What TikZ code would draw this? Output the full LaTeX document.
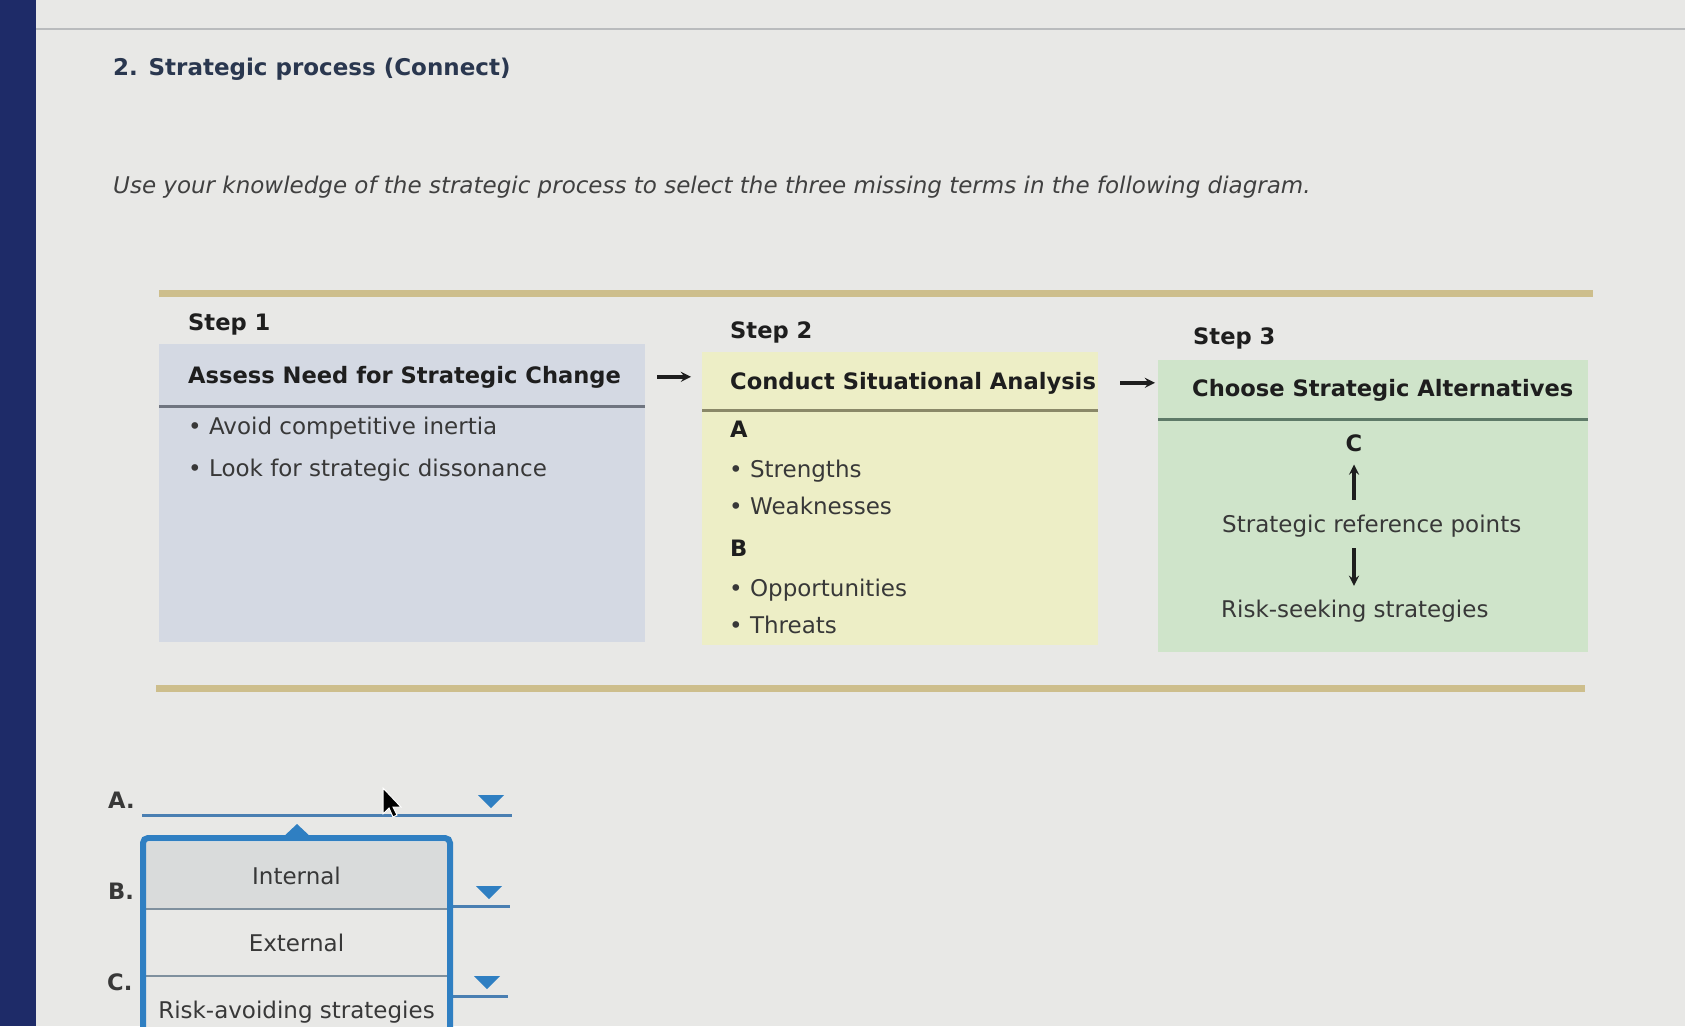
\documentclass[tikz,border=0pt]{standalone}
\usepackage{fontspec}
\setmainfont{DejaVu Sans}
\definecolor{paper}{HTML}{E8E8E6}
\definecolor{navy}{HTML}{1E2B68}
\definecolor{rulegray}{HTML}{B9BBBD}
\definecolor{gold}{HTML}{CDBE8C}
\definecolor{stepone}{HTML}{D4D9E3}
\definecolor{steptwo}{HTML}{EDEEC6}
\definecolor{stepthree}{HTML}{CFE4CA}
\definecolor{divone}{HTML}{6F7580}
\definecolor{divtwo}{HTML}{8A8868}
\definecolor{divthree}{HTML}{5E7A68}
\definecolor{ink}{HTML}{1E1E1E}
\definecolor{soft}{HTML}{383838}
\definecolor{titleblue}{HTML}{2A374F}
\definecolor{ddblue}{HTML}{2F7FC2}
\definecolor{ddline}{HTML}{4A7FB2}
\definecolor{hilite}{HTML}{D9DBDB}
\definecolor{rowline}{HTML}{7F909E}
\begin{document}
\begin{tikzpicture}[x=1pt,y=-1pt,>=stealth,
    every node/.style={inner sep=0pt,text=soft,font=\fontsize{23}{28}\selectfont},
    bold/.style={text=ink,font=\fontsize{22.6}{28}\selectfont\bfseries},
    panel/.style={anchor=north west,minimum width=#1},
    goldrule/.style={gold,line width=7},
    steparrow/.style={->,ink,line width=3.4},
    item/.style={minimum width=301,minimum height=67,text height=20,text depth=2}]
  % screen and page
  \fill[paper] (0,0) rectangle (1685,1026);
  \useasboundingbox (0,0) rectangle (1685,1026);
  \fill[navy] (0,0) rectangle (36,1026);
  \draw[rulegray,line width=1.5] (36,29) -- (1685,29);
  \node[bold,text=titleblue,anchor=base west,font=\fontsize{23}{28}\selectfont\bfseries] (title) at (113,75)
        {2. Strategic process (Connect)};
  \node[anchor=base west,text=ink!85,font=\fontsize{23}{28}\selectfont\itshape] (prompt) at (113,193)
        {Use your knowledge of the strategic process to select the three missing terms in the following diagram.};
  % the three steps, between two gold rules
  \draw[goldrule] (159,293) -- (1593,293);
  \draw[goldrule] (156,688) -- (1585,688);
  \node[panel=486,fill=stepone,minimum height=298] (p1) at (159,344) {};
  \node[panel=396,fill=steptwo,minimum height=293] (p2) at (702,352) {};
  \node[panel=430,fill=stepthree,minimum height=292] (p3) at (1158,360) {};
  \draw[divone,line width=3] (159,406) -- (645,406);
  \draw[divtwo,line width=3] (702,410) -- (1098,410);
  \draw[divthree,line width=3] (1158,419) -- (1588,419);
  % step 1
  \node[bold,anchor=base west] (s1) at (188,330) {Step 1};
  \node[bold,anchor=base west] (h1) at (188,383) {Assess Need for Strategic Change};
  \node[anchor=base west] (b11) at (188,434) {\textbullet\ Avoid competitive inertia};
  \node[anchor=base west] (b12) at (188,476) {\textbullet\ Look for strategic dissonance};
  % step 2
  \node[bold,anchor=base west] (s2) at (730,338) {Step 2};
  \node[bold,anchor=base west] (h2) at (730,389) {Conduct Situational Analysis};
  \node[bold,anchor=base west] (ka) at (730,437) {A};
  \node[anchor=base west] (b21) at (729,477) {\textbullet\ Strengths};
  \node[anchor=base west] (b22) at (729,514) {\textbullet\ Weaknesses};
  \node[bold,anchor=base west] (kb) at (730,556) {B};
  \node[anchor=base west] (b23) at (729,596) {\textbullet\ Opportunities};
  \node[anchor=base west] (b24) at (729,633) {\textbullet\ Threats};
  % step 3
  \node[bold,anchor=base west] (s3) at (1193,344) {Step 3};
  \node[bold,anchor=base west] (h3) at (1192,396) {Choose Strategic Alternatives};
  \node[bold,anchor=base] (kc) at (1354,451) {C};
  \node[anchor=base west] (srp) at (1222,532) {Strategic reference points};
  \node[anchor=base west] (rss) at (1221,617) {Risk-seeking strategies};
  \draw[steparrow,shorten <=14.5,shorten >=13] (srp.north -| kc) -- (kc);
  \draw[steparrow,shorten <=11.5,shorten >=13.5] (srp.south -| kc) -- (rss.north -| kc);
  % arrows between steps
  \draw[steparrow,shorten <=12,shorten >=11] (h1.east -| p1.east) -- (h1.east -| p2.west);
  \draw[steparrow,shorten <=22,shorten >=3] (h2.east -| p2.east) -- (h2.east -| p3.west);
  % answer fields
  \node[bold,text=soft,anchor=base west] (la) at (108,808) {A.};
  \node[bold,text=soft,anchor=base west] (lb) at (108,899) {B.};
  \node[bold,text=soft,anchor=base west] (lc) at (107,990) {C.};
  \draw[ddline,line width=3] (142,815) -- (512,815);
  \draw[ddline,line width=3] (142,906) -- (510,906);
  \draw[ddline,line width=3] (142,996) -- (508,996);
  \fill[ddblue] (478,795) -- (504,795) -- (491,808) -- cycle;
  \fill[ddblue] (476,886) -- (502,886) -- (489,899) -- cycle;
  \fill[ddblue] (474,976) -- (500,976) -- (487,989) -- cycle;
  % open list of field A
  \fill[paper] (143,838) rectangle (450,1040);
  \node[item,fill=hilite] (opt1) at (296.5,875.5) {Internal};
  \node[item] (opt2) at (296.5,942.5) {External};
  \node[item] (opt3) at (296.5,1009.5) {Risk-avoiding strategies};
  \draw[rowline,line width=2] (opt1.south west) -- (opt1.south east);
  \draw[rowline,line width=2] (opt2.south west) -- (opt2.south east);
  \draw[ddblue,line width=6,rounded corners=5] (143,1045) -- (143,838) -- (450,838) -- (450,1045);
  \fill[ddblue] (281,839) -- (297,824) -- (313,839) -- cycle;
  % mouse pointer
  \filldraw[fill=black,draw=white,line width=1] (383,788) -- ++(0,26) -- ++(6,-6) -- ++(4,9)
        -- ++(4,-2) -- ++(-4,-8) -- ++(8,0) -- cycle;
\end{tikzpicture}
\end{document}
